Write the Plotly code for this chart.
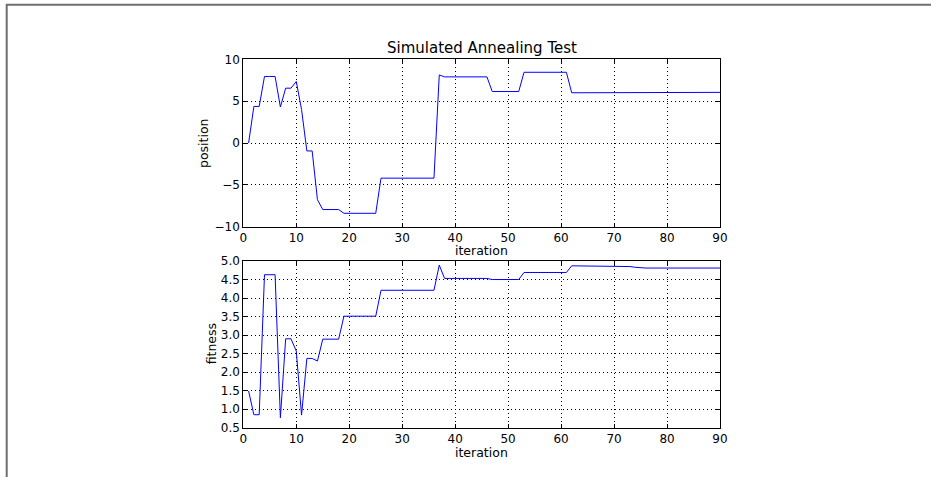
import plotly.graph_objects as go

W, H = 931, 477

iteration = list(range(1, 91))
position = [
    0.0, 4.37, 4.37, 7.95, 7.95, 7.95, 4.3, 6.55, 6.55, 7.35,
    4.0, -0.95, -0.95, -6.77, -7.95, -7.95, -7.95, -7.95, -8.4, -8.4,
    -8.4, -8.4, -8.4, -8.4, -8.4, -4.2, -4.2, -4.2, -4.2, -4.2,
    -4.2, -4.2, -4.2, -4.2, -4.2, -4.2, 8.13, 7.9, 7.9, 7.9,
    7.9, 7.9, 7.9, 7.9, 7.9, 7.9, 6.15, 6.15, 6.15, 6.15,
    6.15, 6.15, 8.45, 8.45, 8.45, 8.45, 8.45, 8.45, 8.45, 8.45,
    8.45, 6.0, 6.0, 6.0, 6.0, 6.0, 6.0, 6.0, 6.0, 6.0,
    6.0, 6.0, 6.03, 6.05, 6.05, 6.05, 6.05, 6.05, 6.05, 6.05,
    6.05, 6.05, 6.05, 6.05, 6.05, 6.05, 6.05, 6.05, 6.05, 6.05,
]
fitness = [
    1.49, 0.85, 0.85, 4.63, 4.63, 4.63, 0.77, 2.90, 2.90, 2.57,
    0.84, 2.37, 2.37, 2.30, 2.89, 2.89, 2.89, 2.89, 3.51, 3.51,
    3.51, 3.51, 3.51, 3.51, 3.51, 4.21, 4.21, 4.21, 4.21, 4.21,
    4.21, 4.21, 4.21, 4.21, 4.21, 4.21, 4.89, 4.53, 4.53, 4.53,
    4.53, 4.53, 4.53, 4.53, 4.53, 4.53, 4.50, 4.50, 4.50, 4.50,
    4.50, 4.50, 4.69, 4.69, 4.69, 4.69, 4.69, 4.69, 4.69, 4.69,
    4.69, 4.87, 4.87, 4.87, 4.87, 4.87, 4.87, 4.87, 4.87, 4.87,
    4.87, 4.87, 4.85, 4.83, 4.81, 4.81, 4.81, 4.81, 4.81, 4.81,
    4.81, 4.81, 4.81, 4.81, 4.81, 4.81, 4.81, 4.81, 4.81, 4.81,
]

x_ticks = [0, 10, 20, 30, 40, 50, 60, 70, 80, 90]
pos_ticks = [-10, -5, 0, 5, 10]
fit_ticks = [0.5, 1.0, 1.5, 2.0, 2.5, 3.0, 3.5, 4.0, 4.5, 5.0]

title_text = "Simulated Annealing Test"
xlabel = "iteration"
ylabel_top = "position"
ylabel_bottom = "fitness"

FONT = "DejaVu Sans"

def px_x(p):
    return p / W

def px_y(p):
    return 1 - p / H

x_dom = [px_x(243.3), px_x(720)]
top_dom = [px_y(226.7), px_y(59.3)]
bot_dom = [px_y(427.7), px_y(261)]

fig = go.Figure()
fig.add_trace(go.Scatter(x=iteration, y=position, mode="lines",
                         line=dict(color="#0000ff", width=1), xaxis="x", yaxis="y",
                         showlegend=False))
fig.add_trace(go.Scatter(x=iteration, y=fitness, mode="lines",
                         line=dict(color="#0000ff", width=1), xaxis="x2", yaxis="y2",
                         showlegend=False))

axis_common = dict(
    showline=True, linecolor="black", linewidth=1, mirror="ticks",
    ticks="inside", ticklen=4, tickcolor="black", tickwidth=1,
    showgrid=True, gridcolor="black", gridwidth=1, griddash="1px,3px",
    zeroline=False, automargin=False,
    tickfont=dict(family=FONT, size=12, color="black"),
)

fig.update_layout(
    width=W, height=H,
    margin=dict(l=0, r=0, t=0, b=0),
    paper_bgcolor="white", plot_bgcolor="white",
    font=dict(family=FONT, color="black"),
    xaxis=dict(domain=x_dom, anchor="y", range=[0, 90], tickmode="array",
               tickvals=x_ticks, **axis_common),
    yaxis=dict(domain=top_dom, anchor="x", range=[-10, 10], tickmode="array",
               tickvals=pos_ticks, **axis_common),
    xaxis2=dict(domain=x_dom, anchor="y2", range=[0, 90], tickmode="array",
                tickvals=x_ticks, **axis_common),
    yaxis2=dict(domain=bot_dom, anchor="x2", range=[0.5, 5.0], tickmode="array",
                tickvals=fit_ticks, tickformat=".1f", **axis_common),
    showlegend=False,
)

ann_font = dict(family=FONT, size=12.5, color="black")
fig.add_annotation(text=title_text, x=(x_dom[0] + x_dom[1]) / 2, y=px_y(48),
                   xref="paper", yref="paper", showarrow=False,
                   xanchor="center", yanchor="middle",
                   font=dict(family=FONT, size=15, color="black"))
fig.add_annotation(text=xlabel, x=(x_dom[0] + x_dom[1]) / 2, y=px_y(251),
                   xref="paper", yref="paper", showarrow=False,
                   xanchor="center", yanchor="middle", font=ann_font)
fig.add_annotation(text=xlabel, x=(x_dom[0] + x_dom[1]) / 2, y=px_y(452),
                   xref="paper", yref="paper", showarrow=False,
                   xanchor="center", yanchor="middle", font=ann_font)
fig.add_annotation(text=ylabel_top, x=px_x(203), y=(top_dom[0] + top_dom[1]) / 2,
                   xref="paper", yref="paper", showarrow=False, textangle=-90,
                   xanchor="center", yanchor="middle", font=ann_font)
fig.add_annotation(text=ylabel_bottom, x=px_x(211), y=(bot_dom[0] + bot_dom[1]) / 2,
                   xref="paper", yref="paper", showarrow=False, textangle=-90,
                   xanchor="center", yanchor="middle", font=ann_font)

# window frame edges visible in the screenshot
fig.add_shape(type="line", xref="paper", yref="paper",
              x0=px_x(6), x1=1, y0=px_y(4.8), y1=px_y(4.8),
              line=dict(color="#6e6e6e", width=2))
fig.add_shape(type="line", xref="paper", yref="paper",
              x0=px_x(6.7), x1=px_x(6.7), y0=0, y1=px_y(4),
              line=dict(color="#6e6e6e", width=2))

fig.write_html("out.html")
